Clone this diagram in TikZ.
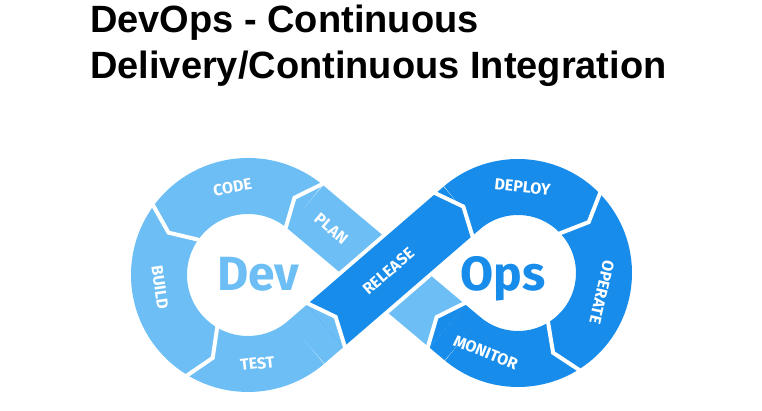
\documentclass[tikz,border=0pt]{standalone}
\usepackage{fontspec}
\setmainfont{Liberation Sans}
\newfontfamily\firafont{Fira Sans}
\usepackage{tikz}
\usetikzlibrary{calc}
\definecolor{devblue}{HTML}{6CBEF5}
\definecolor{opsblue}{HTML}{178CEA}

\tikzset{gap/.pic={\draw[white, line width=4pt, line join=miter] (0,-32) -- (14,0) -- (0,32);}}

\begin{document}
\begin{tikzpicture}[x=1pt, y=1pt,
    band/.style={line width=56pt},
    tip/.style={line width=0pt},
    stage/.style={text=white, font=\firafont\bfseries\fontsize{16}{16}\selectfont, inner sep=0pt},
    word/.style={font=\firafont\bfseries\fontsize{48}{48}\selectfont, anchor=base}
]
\useasboundingbox (0,0) rectangle (762,410);

\node[anchor=north west, inner sep=0pt, align=left, font=\bfseries\fontsize{38}{46}\selectfont] (title) at (90,405) {DevOps - Continuous\\Delivery/Continuous Integration};

% loop centres and tangent points
\coordinate (L) at (248,135);
\coordinate (R) at (518,137);
\coordinate (M) at (385.3,136);
\coordinate (lp) at (305.2,203.2);
\coordinate (rp) at (462.7,71.1);
\coordinate (lr) at (306.1,67.7);
\coordinate (rr) at (461.8,202.1);
\coordinate (mon) at ($(rp)!20pt!(M)$);
\coordinate (tst) at ($(lr)!25pt!(M)$);

% plan band runs underneath
\draw[band, devblue] (lp) -- (mon);
\draw[band, opsblue] (mon) -- (rp);
\fill[opsblue, shift={(mon)}, rotate=140] (0,-28) -- (14,0) -- (0,28) -- cycle;
% the two loops
\draw[band, devblue] (lp) arc[start angle=50, end angle=310.8, radius=89];
\draw[band, opsblue] (rr) arc[start angle=130.8, end angle=-130, radius=86];
\draw[band, devblue] (lr) -- (tst);
% release crosses over
\draw[line width=64pt, white] ($(M)!-50pt!(rr)$) -- ($(M)!50pt!(rr)$);
\draw[band, opsblue] (tst) -- (rr);
\fill[devblue, shift={(tst)}, rotate=40.8] (0,-28) -- (14,0) -- (0,28) -- cycle;

% gaps between the stages
\pic[rotate=140] at (lp) {gap};
\pic[rotate=233] at ([shift={(L)}]143:89) {gap};
\pic[rotate=328] at ([shift={(L)}]238:89) {gap};
\pic[rotate=40.8] at (tst) {gap};
\pic[rotate=40.8] at ($(rr)!12pt!(M)$) {gap};
\pic[rotate=-45] at ([shift={(R)}]45:86) {gap};
\pic[rotate=-147] at ([shift={(R)}]-57:86) {gap};
\pic[rotate=140] at (mon) {gap};

\node[stage, rotate=10] (code) at ([shift={(L)}]100:89) {CODE};
\node[stage, rotate=-82] (build) at ([shift={(L)}]188:89) {BUILD};
\node[stage, rotate=6] (test) at ([shift={(L)}]276:89) {TEST};
\node[stage, rotate=-40] (plan) at ($(lp)!34pt!(M)$) {PLAN};
\node[stage, rotate=40.8] (release) at ($(M)!4pt!(rr)$) {RELEASE};
\node[stage, rotate=-6] (deploy) at ([shift={(R)}]87:86) {DEPLOY};
\node[stage, rotate=-103] (operate) at ([shift={(R)}]-13:86) {OPERATE};
\node[stage, rotate=-22] (monitor) at ([shift={(R)}]248:86) {MONITOR};

\node[word, text=devblue] (dev) at (258,120) {Dev};
\node[word, text=opsblue] (ops) at (503,120) {Ops};
\end{tikzpicture}
\end{document}
